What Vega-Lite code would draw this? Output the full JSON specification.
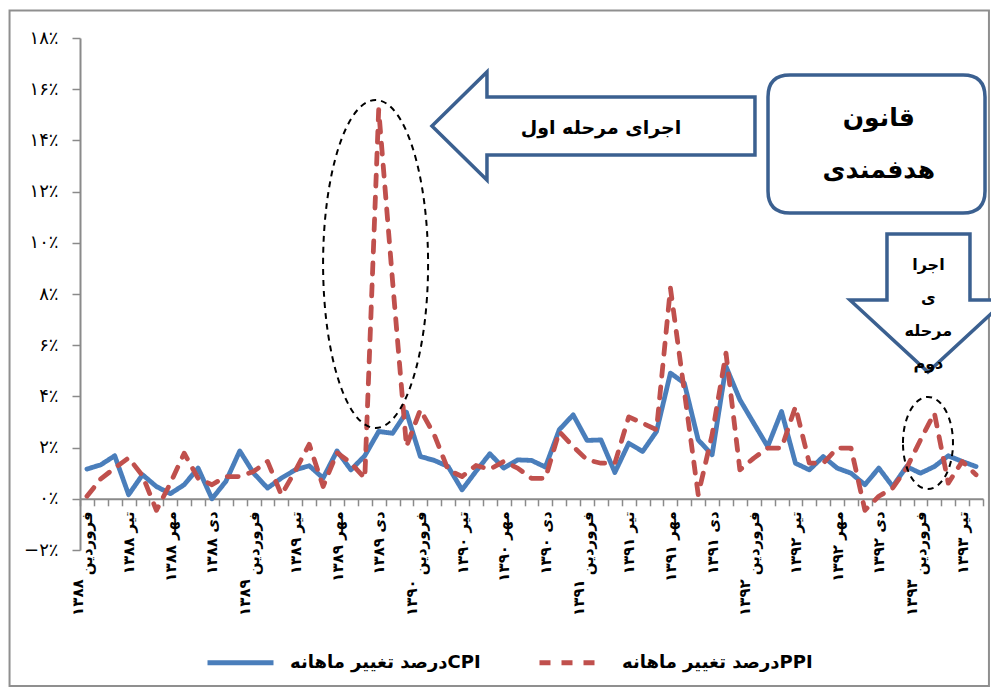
{
  "$schema": "https://vega.github.io/schema/vega-lite/v6.json",
  "width": 903,
  "height": 512,
  "autosize": {"type": "none"},
  "padding": {"left": 80, "top": 38, "right": 8, "bottom": 138},
  "background": "white",
  "config": {"view": {"stroke": null}, "font": "DejaVu Sans"},
  "datasets": {
    "series": [
      {"i":0,"month":"فروردین ۱۳۸۸","series":"CPI","value":1.16},
      {"i":1,"month":"اردیبهشت ۱۳۸۸","series":"CPI","value":1.33},
      {"i":2,"month":"خرداد ۱۳۸۸","series":"CPI","value":1.68},
      {"i":3,"month":"تیر ۱۳۸۸","series":"CPI","value":0.16},
      {"i":4,"month":"مرداد ۱۳۸۸","series":"CPI","value":0.94},
      {"i":5,"month":"شهریور ۱۳۸۸","series":"CPI","value":0.48},
      {"i":6,"month":"مهر ۱۳۸۸","series":"CPI","value":0.2},
      {"i":7,"month":"آبان ۱۳۸۸","series":"CPI","value":0.55},
      {"i":8,"month":"آذر ۱۳۸۸","series":"CPI","value":1.2},
      {"i":9,"month":"دی ۱۳۸۸","series":"CPI","value":0.0},
      {"i":10,"month":"بهمن ۱۳۸۸","series":"CPI","value":0.68},
      {"i":11,"month":"اسفند ۱۳۸۸","series":"CPI","value":1.87},
      {"i":12,"month":"فروردین ۱۳۸۹","series":"CPI","value":1.0},
      {"i":13,"month":"اردیبهشت ۱۳۸۹","series":"CPI","value":0.42},
      {"i":14,"month":"خرداد ۱۳۸۹","series":"CPI","value":0.81},
      {"i":15,"month":"تیر ۱۳۸۹","series":"CPI","value":1.13},
      {"i":16,"month":"مرداد ۱۳۸۹","series":"CPI","value":1.29},
      {"i":17,"month":"شهریور ۱۳۸۹","series":"CPI","value":0.81},
      {"i":18,"month":"مهر ۱۳۸۹","series":"CPI","value":1.87},
      {"i":19,"month":"آبان ۱۳۸۹","series":"CPI","value":1.13},
      {"i":20,"month":"آذر ۱۳۸۹","series":"CPI","value":1.68},
      {"i":21,"month":"دی ۱۳۸۹","series":"CPI","value":2.63},
      {"i":22,"month":"بهمن ۱۳۸۹","series":"CPI","value":2.56},
      {"i":23,"month":"اسفند ۱۳۸۹","series":"CPI","value":3.38},
      {"i":24,"month":"فروردین ۱۳۹۰","series":"CPI","value":1.65},
      {"i":25,"month":"اردیبهشت ۱۳۹۰","series":"CPI","value":1.5},
      {"i":26,"month":"خرداد ۱۳۹۰","series":"CPI","value":1.26},
      {"i":27,"month":"تیر ۱۳۹۰","series":"CPI","value":0.35},
      {"i":28,"month":"مرداد ۱۳۹۰","series":"CPI","value":1.07},
      {"i":29,"month":"شهریور ۱۳۹۰","series":"CPI","value":1.76},
      {"i":30,"month":"مهر ۱۳۹۰","series":"CPI","value":1.2},
      {"i":31,"month":"آبان ۱۳۹۰","series":"CPI","value":1.52},
      {"i":32,"month":"آذر ۱۳۹۰","series":"CPI","value":1.5},
      {"i":33,"month":"دی ۱۳۹۰","series":"CPI","value":1.24},
      {"i":34,"month":"بهمن ۱۳۹۰","series":"CPI","value":2.7},
      {"i":35,"month":"اسفند ۱۳۹۰","series":"CPI","value":3.28},
      {"i":36,"month":"فروردین ۱۳۹۱","series":"CPI","value":2.28},
      {"i":37,"month":"اردیبهشت ۱۳۹۱","series":"CPI","value":2.3},
      {"i":38,"month":"خرداد ۱۳۹۱","series":"CPI","value":1.03},
      {"i":39,"month":"تیر ۱۳۹۱","series":"CPI","value":2.17},
      {"i":40,"month":"مرداد ۱۳۹۱","series":"CPI","value":1.85},
      {"i":41,"month":"شهریور ۱۳۹۱","series":"CPI","value":2.63},
      {"i":42,"month":"مهر ۱۳۹۱","series":"CPI","value":4.91},
      {"i":43,"month":"آبان ۱۳۹۱","series":"CPI","value":4.52},
      {"i":44,"month":"آذر ۱۳۹۱","series":"CPI","value":2.3},
      {"i":45,"month":"دی ۱۳۹۱","series":"CPI","value":1.72},
      {"i":46,"month":"بهمن ۱۳۹۱","series":"CPI","value":5.17},
      {"i":47,"month":"اسفند ۱۳۹۱","series":"CPI","value":3.87},
      {"i":48,"month":"فروردین ۱۳۹۲","series":"CPI","value":2.95},
      {"i":49,"month":"اردیبهشت ۱۳۹۲","series":"CPI","value":2.04},
      {"i":50,"month":"خرداد ۱۳۹۲","series":"CPI","value":3.41},
      {"i":51,"month":"تیر ۱۳۹۲","series":"CPI","value":1.39},
      {"i":52,"month":"مرداد ۱۳۹۲","series":"CPI","value":1.13},
      {"i":53,"month":"شهریور ۱۳۹۲","series":"CPI","value":1.65},
      {"i":54,"month":"مهر ۱۳۹۲","series":"CPI","value":1.2},
      {"i":55,"month":"آبان ۱۳۹۲","series":"CPI","value":1.0},
      {"i":56,"month":"آذر ۱۳۹۲","series":"CPI","value":0.55},
      {"i":57,"month":"دی ۱۳۹۲","series":"CPI","value":1.2},
      {"i":58,"month":"بهمن ۱۳۹۲","series":"CPI","value":0.48},
      {"i":59,"month":"اسفند ۱۳۹۲","series":"CPI","value":1.26},
      {"i":60,"month":"فروردین ۱۳۹۳","series":"CPI","value":1.0},
      {"i":61,"month":"اردیبهشت ۱۳۹۳","series":"CPI","value":1.26},
      {"i":62,"month":"خرداد ۱۳۹۳","series":"CPI","value":1.68},
      {"i":63,"month":"تیر ۱۳۹۳","series":"CPI","value":1.46},
      {"i":64,"month":"مرداد ۱۳۹۳","series":"CPI","value":1.26},
      {"i":0,"month":"فروردین ۱۳۸۸","series":"PPI","value":0.1},
      {"i":1,"month":"اردیبهشت ۱۳۸۸","series":"PPI","value":0.78},
      {"i":2,"month":"خرداد ۱۳۸۸","series":"PPI","value":1.2},
      {"i":3,"month":"تیر ۱۳۸۸","series":"PPI","value":1.6},
      {"i":4,"month":"مرداد ۱۳۸۸","series":"PPI","value":0.9},
      {"i":5,"month":"شهریور ۱۳۸۸","series":"PPI","value":-0.45},
      {"i":6,"month":"مهر ۱۳۸۸","series":"PPI","value":0.6},
      {"i":7,"month":"آبان ۱۳۸۸","series":"PPI","value":1.78},
      {"i":8,"month":"آذر ۱۳۸۸","series":"PPI","value":0.8},
      {"i":9,"month":"دی ۱۳۸۸","series":"PPI","value":0.55},
      {"i":10,"month":"بهمن ۱۳۸۸","series":"PPI","value":0.87},
      {"i":11,"month":"اسفند ۱۳۸۸","series":"PPI","value":0.87},
      {"i":12,"month":"فروردین ۱۳۸۹","series":"PPI","value":1.07},
      {"i":13,"month":"اردیبهشت ۱۳۸۹","series":"PPI","value":1.46},
      {"i":14,"month":"خرداد ۱۳۸۹","series":"PPI","value":0.15},
      {"i":15,"month":"تیر ۱۳۸۹","series":"PPI","value":1.1},
      {"i":16,"month":"مرداد ۱۳۸۹","series":"PPI","value":2.13},
      {"i":17,"month":"شهریور ۱۳۸۹","series":"PPI","value":0.48},
      {"i":18,"month":"مهر ۱۳۸۹","series":"PPI","value":1.8},
      {"i":19,"month":"آبان ۱۳۸۹","series":"PPI","value":1.4},
      {"i":20,"month":"آذر ۱۳۸۹","series":"PPI","value":0.8},
      {"i":21,"month":"دی ۱۳۸۹","series":"PPI","value":15.2},
      {"i":22,"month":"بهمن ۱۳۸۹","series":"PPI","value":8.5},
      {"i":23,"month":"اسفند ۱۳۸۹","series":"PPI","value":2.04},
      {"i":24,"month":"فروردین ۱۳۹۰","series":"PPI","value":3.48},
      {"i":25,"month":"اردیبهشت ۱۳۹۰","series":"PPI","value":2.5},
      {"i":26,"month":"خرداد ۱۳۹۰","series":"PPI","value":1.13},
      {"i":27,"month":"تیر ۱۳۹۰","series":"PPI","value":0.87},
      {"i":28,"month":"مرداد ۱۳۹۰","series":"PPI","value":1.3},
      {"i":29,"month":"شهریور ۱۳۹۰","series":"PPI","value":1.15},
      {"i":30,"month":"مهر ۱۳۹۰","series":"PPI","value":1.46},
      {"i":31,"month":"آبان ۱۳۹۰","series":"PPI","value":1.2},
      {"i":32,"month":"آذر ۱۳۹۰","series":"PPI","value":0.8},
      {"i":33,"month":"دی ۱۳۹۰","series":"PPI","value":0.8},
      {"i":34,"month":"بهمن ۱۳۹۰","series":"PPI","value":2.63},
      {"i":35,"month":"اسفند ۱۳۹۰","series":"PPI","value":2.04},
      {"i":36,"month":"فروردین ۱۳۹۱","series":"PPI","value":1.52},
      {"i":37,"month":"اردیبهشت ۱۳۹۱","series":"PPI","value":1.39},
      {"i":38,"month":"خرداد ۱۳۹۱","series":"PPI","value":1.39},
      {"i":39,"month":"تیر ۱۳۹۱","series":"PPI","value":3.2},
      {"i":40,"month":"مرداد ۱۳۹۱","series":"PPI","value":2.95},
      {"i":41,"month":"شهریور ۱۳۹۱","series":"PPI","value":2.7},
      {"i":42,"month":"مهر ۱۳۹۱","series":"PPI","value":8.23},
      {"i":43,"month":"آبان ۱۳۹۱","series":"PPI","value":4.2},
      {"i":44,"month":"آذر ۱۳۹۱","series":"PPI","value":0.16},
      {"i":45,"month":"دی ۱۳۹۱","series":"PPI","value":2.5},
      {"i":46,"month":"بهمن ۱۳۹۱","series":"PPI","value":5.69},
      {"i":47,"month":"اسفند ۱۳۹۱","series":"PPI","value":1.13},
      {"i":48,"month":"فروردین ۱۳۹۲","series":"PPI","value":1.59},
      {"i":49,"month":"اردیبهشت ۱۳۹۲","series":"PPI","value":1.98},
      {"i":50,"month":"خرداد ۱۳۹۲","series":"PPI","value":1.98},
      {"i":51,"month":"تیر ۱۳۹۲","series":"PPI","value":3.6},
      {"i":52,"month":"مرداد ۱۳۹۲","series":"PPI","value":1.39},
      {"i":53,"month":"شهریور ۱۳۹۲","series":"PPI","value":1.39},
      {"i":54,"month":"مهر ۱۳۹۲","series":"PPI","value":1.98},
      {"i":55,"month":"آبان ۱۳۹۲","series":"PPI","value":1.98},
      {"i":56,"month":"آذر ۱۳۹۲","series":"PPI","value":-0.45},
      {"i":57,"month":"دی ۱۳۹۲","series":"PPI","value":0.1},
      {"i":58,"month":"بهمن ۱۳۹۲","series":"PPI","value":0.42},
      {"i":59,"month":"اسفند ۱۳۹۲","series":"PPI","value":1.2},
      {"i":60,"month":"فروردین ۱۳۹۳","series":"PPI","value":2.3},
      {"i":61,"month":"اردیبهشت ۱۳۹۳","series":"PPI","value":3.35},
      {"i":62,"month":"خرداد ۱۳۹۳","series":"PPI","value":0.61},
      {"i":63,"month":"تیر ۱۳۹۳","series":"PPI","value":1.46},
      {"i":64,"month":"مرداد ۱۳۹۳","series":"PPI","value":0.94}
    ],
    "ann": [
      {"id":"frame","i":0,"value":18,"text":""},
      {"id":"ellipse1","i":21,"value":9.2,"text":""},
      {"id":"arrow1","i":37,"value":14.5,"text":"اجرای مرحله اول"},
      {"id":"box","i":57,"value":13.9,"text":"قانون\nهدفمندی"},
      {"id":"arrow2","i":61,"value":7.8,"text":"اجرا\nی\nمرحله\nدوم"},
      {"id":"ellipse2","i":61,"value":2.2,"text":""}
    ]
  },
  "resolve": {"axis": {"x": "independent", "y": "independent"}},
  "layer": [
    {
      "data": {"name": "ann"},
      "transform": [{"filter": "datum.id == 'frame'"}],
      "mark": {"type": "point", "size": 4, "filled": false, "stroke": "#8f8f8f", "strokeWidth": 2, "opacity": 1,
        "shape": "M-77.4,-27.5 L902,-27.5 L902,648 L-77.4,648 Z"},
      "encoding": {
        "x": {"field": "i", "type": "ordinal", "axis": null},
        "y": {"field": "value", "type": "quantitative", "axis": null}
      }
    },
    {
      "data": {"name": "series"},
      "mark": {"type": "line", "strokeWidth": 4.8, "strokeCap": "round", "strokeJoin": "round"},
      "encoding": {
        "x": {
          "field": "i", "type": "ordinal",
          "scale": {"type": "band", "paddingInner": 0, "paddingOuter": 0},
          "axis": {
            "orient": "bottom", "offset": -51.2, "title": null, "grid": false,
            "tickBand": "extent", "tickSize": 7, "tickColor": "#8a8a8a", "tickWidth": 1.5,
            "domainColor": "#8a8a8a", "domainWidth": 2,
            "labelAngle": -90, "labelAlign": "right", "labelBaseline": "middle",
            "labelFont": "DejaVu Sans", "labelFontSize": 15, "labelFontWeight": "bold", "labelColor": "black",
            "labelPadding": 5, "labelOverlap": false, "labelLimit": 200,
            "labelExpr": "datum.value % 12 == 0 ? 'فروردین' : (datum.value % 3 == 0 ? ['فروردین','تیر','مهر','دی'][(datum.value % 12) / 3] + ' ' + ['۱۳۸۸','۱۳۸۹','۱۳۹۰','۱۳۹۱','۱۳۹۲','۱۳۹۳'][floor(datum.value / 12)] : '')"
          }
        },
        "y": {
          "field": "value", "type": "quantitative",
          "scale": {"domain": [-2, 18], "nice": false, "zero": false},
          "axis": {
            "orient": "left", "title": null, "grid": false,
            "values": [-2, 0, 2, 4, 6, 8, 10, 12, 14, 16, 18],
            "tickSize": 8, "tickColor": "#8a8a8a", "tickWidth": 1.5,
            "domainColor": "#8a8a8a", "domainWidth": 2,
            "labelFont": "DejaVu Sans", "labelFontSize": 18, "labelColor": "black", "labelPadding": 14,
            "labelExpr": "replace(replace(replace(replace(replace(replace(replace(replace(replace(replace(format(datum.value,'d'),/0/g,'۰'),/1/g,'۱'),/2/g,'۲'),/3/g,'۳'),/4/g,'۴'),/5/g,'۵'),/6/g,'۶'),/7/g,'۷'),/8/g,'۸'),/9/g,'۹') + '٪'"
          }
        },
        "color": {
          "field": "series", "type": "nominal",
          "scale": {"domain": ["CPI", "PPI"], "range": ["#4A7EBB", "#C0504D"]},
          "legend": {
            "title": null, "orient": "none", "legendX": 125, "legendY": 589, "direction": "horizontal",
            "symbolType": "stroke", "symbolSize": 4356, "symbolStrokeWidth": 5,
            "labelFont": "DejaVu Sans", "labelFontSize": 18, "labelFontWeight": "bold", "labelColor": "black",
            "labelLimit": 400, "labelOffset": 14, "columnPadding": 48,
            "labelExpr": "'درصد تغییر ماهانه' + datum.label"
          }
        },
        "strokeDash": {
          "field": "series", "type": "nominal",
          "scale": {"domain": ["CPI", "PPI"], "range": [[1, 0], [11, 11]]},
          "legend": {
            "title": null, "orient": "none", "legendX": 125, "legendY": 589, "direction": "horizontal",
            "symbolType": "stroke", "symbolSize": 4356, "symbolStrokeWidth": 5,
            "labelFont": "DejaVu Sans", "labelFontSize": 18, "labelFontWeight": "bold", "labelColor": "black",
            "labelLimit": 400, "labelOffset": 14, "columnPadding": 48,
            "labelExpr": "'درصد تغییر ماهانه' + datum.label"
          }
        },
        "order": {"field": "i", "type": "quantitative"}
      }
    },
    {
      "data": {"name": "series"},
      "mark": {"type": "point", "opacity": 0},
      "encoding": {
        "x": {
          "field": "i", "type": "ordinal",
          "axis": {
            "orient": "bottom", "offset": -51.2, "title": null, "grid": false,
            "domain": false, "ticks": false, "tickSize": 7, "tickBand": "extent",
            "labelAngle": -90, "labelAlign": "right", "labelBaseline": "middle",
            "labelFont": "DejaVu Sans", "labelFontSize": 15, "labelFontWeight": "bold", "labelColor": "black",
            "labelPadding": 80, "labelOffset": -9, "labelOverlap": false,
            "labelExpr": "datum.value % 12 == 0 ? ['۱۳۸۸','۱۳۸۹','۱۳۹۰','۱۳۹۱','۱۳۹۲','۱۳۹۳'][floor(datum.value / 12)] : ''"
          }
        }
      }
    },
    {
      "data": {"name": "ann"},
      "transform": [{"filter": "datum.id == 'ellipse1'"}],
      "mark": {"type": "point", "size": 4, "filled": false, "stroke": "black", "strokeWidth": 2, "strokeDash": [6, 5], "opacity": 1,
        "shape": "M-55.6,0.7 C-55.6,-89.9 -32.1,-163.3 -3.1,-163.3 C25.9,-163.3 49.4,-89.9 49.4,0.7 C49.4,91.3 25.9,164.7 -3.1,164.7 C-32.1,164.7 -55.6,91.3 -55.6,0.7 Z"},
      "encoding": {
        "x": {"field": "i", "type": "ordinal", "axis": null},
        "y": {"field": "value", "type": "quantitative", "axis": null}
      }
    },
    {
      "data": {"name": "ann"},
      "transform": [{"filter": "datum.id == 'ellipse2'"}],
      "mark": {"type": "point", "size": 4, "filled": false, "stroke": "black", "strokeWidth": 2, "strokeDash": [6, 5], "opacity": 1,
        "shape": "M-31.4,0.5 C-31.4,-24.9 -20.2,-45.5 -6.4,-45.5 C7.4,-45.5 18.6,-24.9 18.6,0.5 C18.6,25.9 7.4,46.5 -6.4,46.5 C-20.2,46.5 -31.4,25.9 -31.4,0.5 Z"},
      "encoding": {
        "x": {"field": "i", "type": "ordinal", "axis": null},
        "y": {"field": "value", "type": "quantitative", "axis": null}
      }
    },
    {
      "data": {"name": "ann"},
      "transform": [{"filter": "datum.id == 'arrow1'"}],
      "mark": {"type": "point", "size": 4, "filled": true, "fill": "white", "stroke": "#3B6090", "strokeWidth": 3.5, "opacity": 1, "strokeJoin": "miter",
        "shape": "M-169,-1.6 L-114,-55.6 L-114,-30.6 L154,-30.6 L154,27.4 L-114,27.4 L-114,52.4 Z"},
      "encoding": {
        "x": {"field": "i", "type": "ordinal", "axis": null},
        "y": {"field": "value", "type": "quantitative", "axis": null}
      }
    },
    {
      "data": {"name": "ann"},
      "transform": [{"filter": "datum.id == 'box'"}],
      "mark": {"type": "point", "size": 4, "filled": true, "fill": "white", "stroke": "#3B6090", "strokeWidth": 3.5, "opacity": 1,
        "shape": "M-88.8,-68 L84.2,-68 Q106.2,-68 106.2,-46 L106.2,48 Q106.2,70 84.2,70 L-88.8,70 Q-110.8,70 -110.8,48 L-110.8,-46 Q-110.8,-68 -88.8,-68 Z"},
      "encoding": {
        "x": {"field": "i", "type": "ordinal", "axis": null},
        "y": {"field": "value", "type": "quantitative", "axis": null}
      }
    },
    {
      "data": {"name": "ann"},
      "transform": [{"filter": "datum.id == 'arrow2'"}],
      "mark": {"type": "point", "size": 4, "filled": true, "fill": "white", "stroke": "#3B6090", "strokeWidth": 3.5, "opacity": 1,
        "shape": "M-47.4,-65 L35.6,-65 L35.6,1 L71.6,1 L-6.4,73 L-84.4,1 L-47.4,1 Z"},
      "encoding": {
        "x": {"field": "i", "type": "ordinal", "axis": null},
        "y": {"field": "value", "type": "quantitative", "axis": null}
      }
    },
    {
      "data": {"name": "ann"},
      "transform": [{"filter": "datum.id == 'arrow1'"}],
      "mark": {"type": "text", "font": "DejaVu Sans", "fontSize": 19, "fontWeight": "bold", "color": "black", "align": "center", "baseline": "middle"},
      "encoding": {
        "x": {"field": "i", "type": "ordinal", "axis": null},
        "y": {"field": "value", "type": "quantitative", "axis": null},
        "text": {"field": "text"}
      }
    },
    {
      "data": {"name": "ann"},
      "transform": [{"filter": "datum.id == 'box'"}],
      "mark": {"type": "text", "font": "DejaVu Sans", "fontSize": 25, "fontWeight": "bold", "color": "black", "align": "center", "baseline": "middle", "lineBreak": "\n", "lineHeight": 52, "dy": -25},
      "encoding": {
        "x": {"field": "i", "type": "ordinal", "axis": null},
        "y": {"field": "value", "type": "quantitative", "axis": null},
        "text": {"field": "text"}
      }
    },
    {
      "data": {"name": "ann"},
      "transform": [{"filter": "datum.id == 'arrow2'"}],
      "mark": {"type": "text", "font": "DejaVu Sans", "fontSize": 16, "fontWeight": "bold", "color": "black", "align": "center", "baseline": "middle", "lineBreak": "\n", "lineHeight": 33, "dx": -6, "dy": -34},
      "encoding": {
        "x": {"field": "i", "type": "ordinal", "axis": null},
        "y": {"field": "value", "type": "quantitative", "axis": null},
        "text": {"field": "text"}
      }
    }
  ]
}
